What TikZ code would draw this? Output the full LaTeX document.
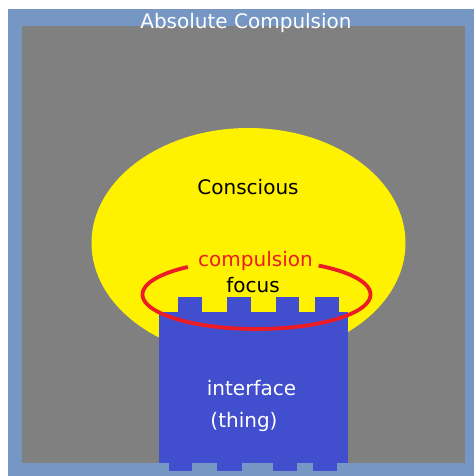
\documentclass[tikz,border=0pt]{standalone}
\usepackage{fontspec}
\setmainfont{DejaVu Sans}
\definecolor{framebl}{RGB}{118,150,196}
\definecolor{ground}{RGB}{128,128,128}
\definecolor{consc}{RGB}{255,242,0}
\definecolor{thingbl}{RGB}{65,78,206}
\definecolor{compred}{RGB}{237,28,36}

\begin{document}
\begin{tikzpicture}[x=1pt, y=-1pt,
  lbl/.style={font=\fontsize{20}{23}\selectfont, anchor=base, inner sep=0pt}]
  \useasboundingbox (0,0) rectangle (474,476);

  % Rahmen und Grund
  \fill[framebl] (8,9) rectangle (474,476);
  \fill[ground] (22,26) rectangle (465,463);
  \node[lbl, text=white] (title) at (246,29) {Absolute Compulsion};

  % Bewusstsein
  \fill[consc] (248.5,243) ellipse [x radius=157, y radius=115];
  \node[lbl] (conscious) at (248,194) {Conscious};

  % das Ding
  \fill[thingbl] (159,312) rectangle (348,463);
  \foreach \a/\b in {178/202, 227/251, 276/299, 315/339}
    \fill[thingbl] (\a,297) rectangle (\b,312.5);
  \foreach \a/\b in {169/192, 217/242, 273/297, 313/337}
    \fill[thingbl] (\a,462.5) rectangle (\b,471);

  % Zwang
  \draw[compred, line width=3.8pt] plot[domain=-57:233, samples=90]
    ({256.5+114*cos(\x)}, {294.5+34.5*sin(\x)});
  \node[lbl, text=compred] (compulsion) at (255.5,266) {compulsion};
  \node[lbl] (focus) at (253,292) {focus};

  \node[lbl, text=white] (interface) at (251.5,395) {interface};
  \node[lbl, text=white] (thing) at (244,427) {(thing)};
\end{tikzpicture}
\end{document}
